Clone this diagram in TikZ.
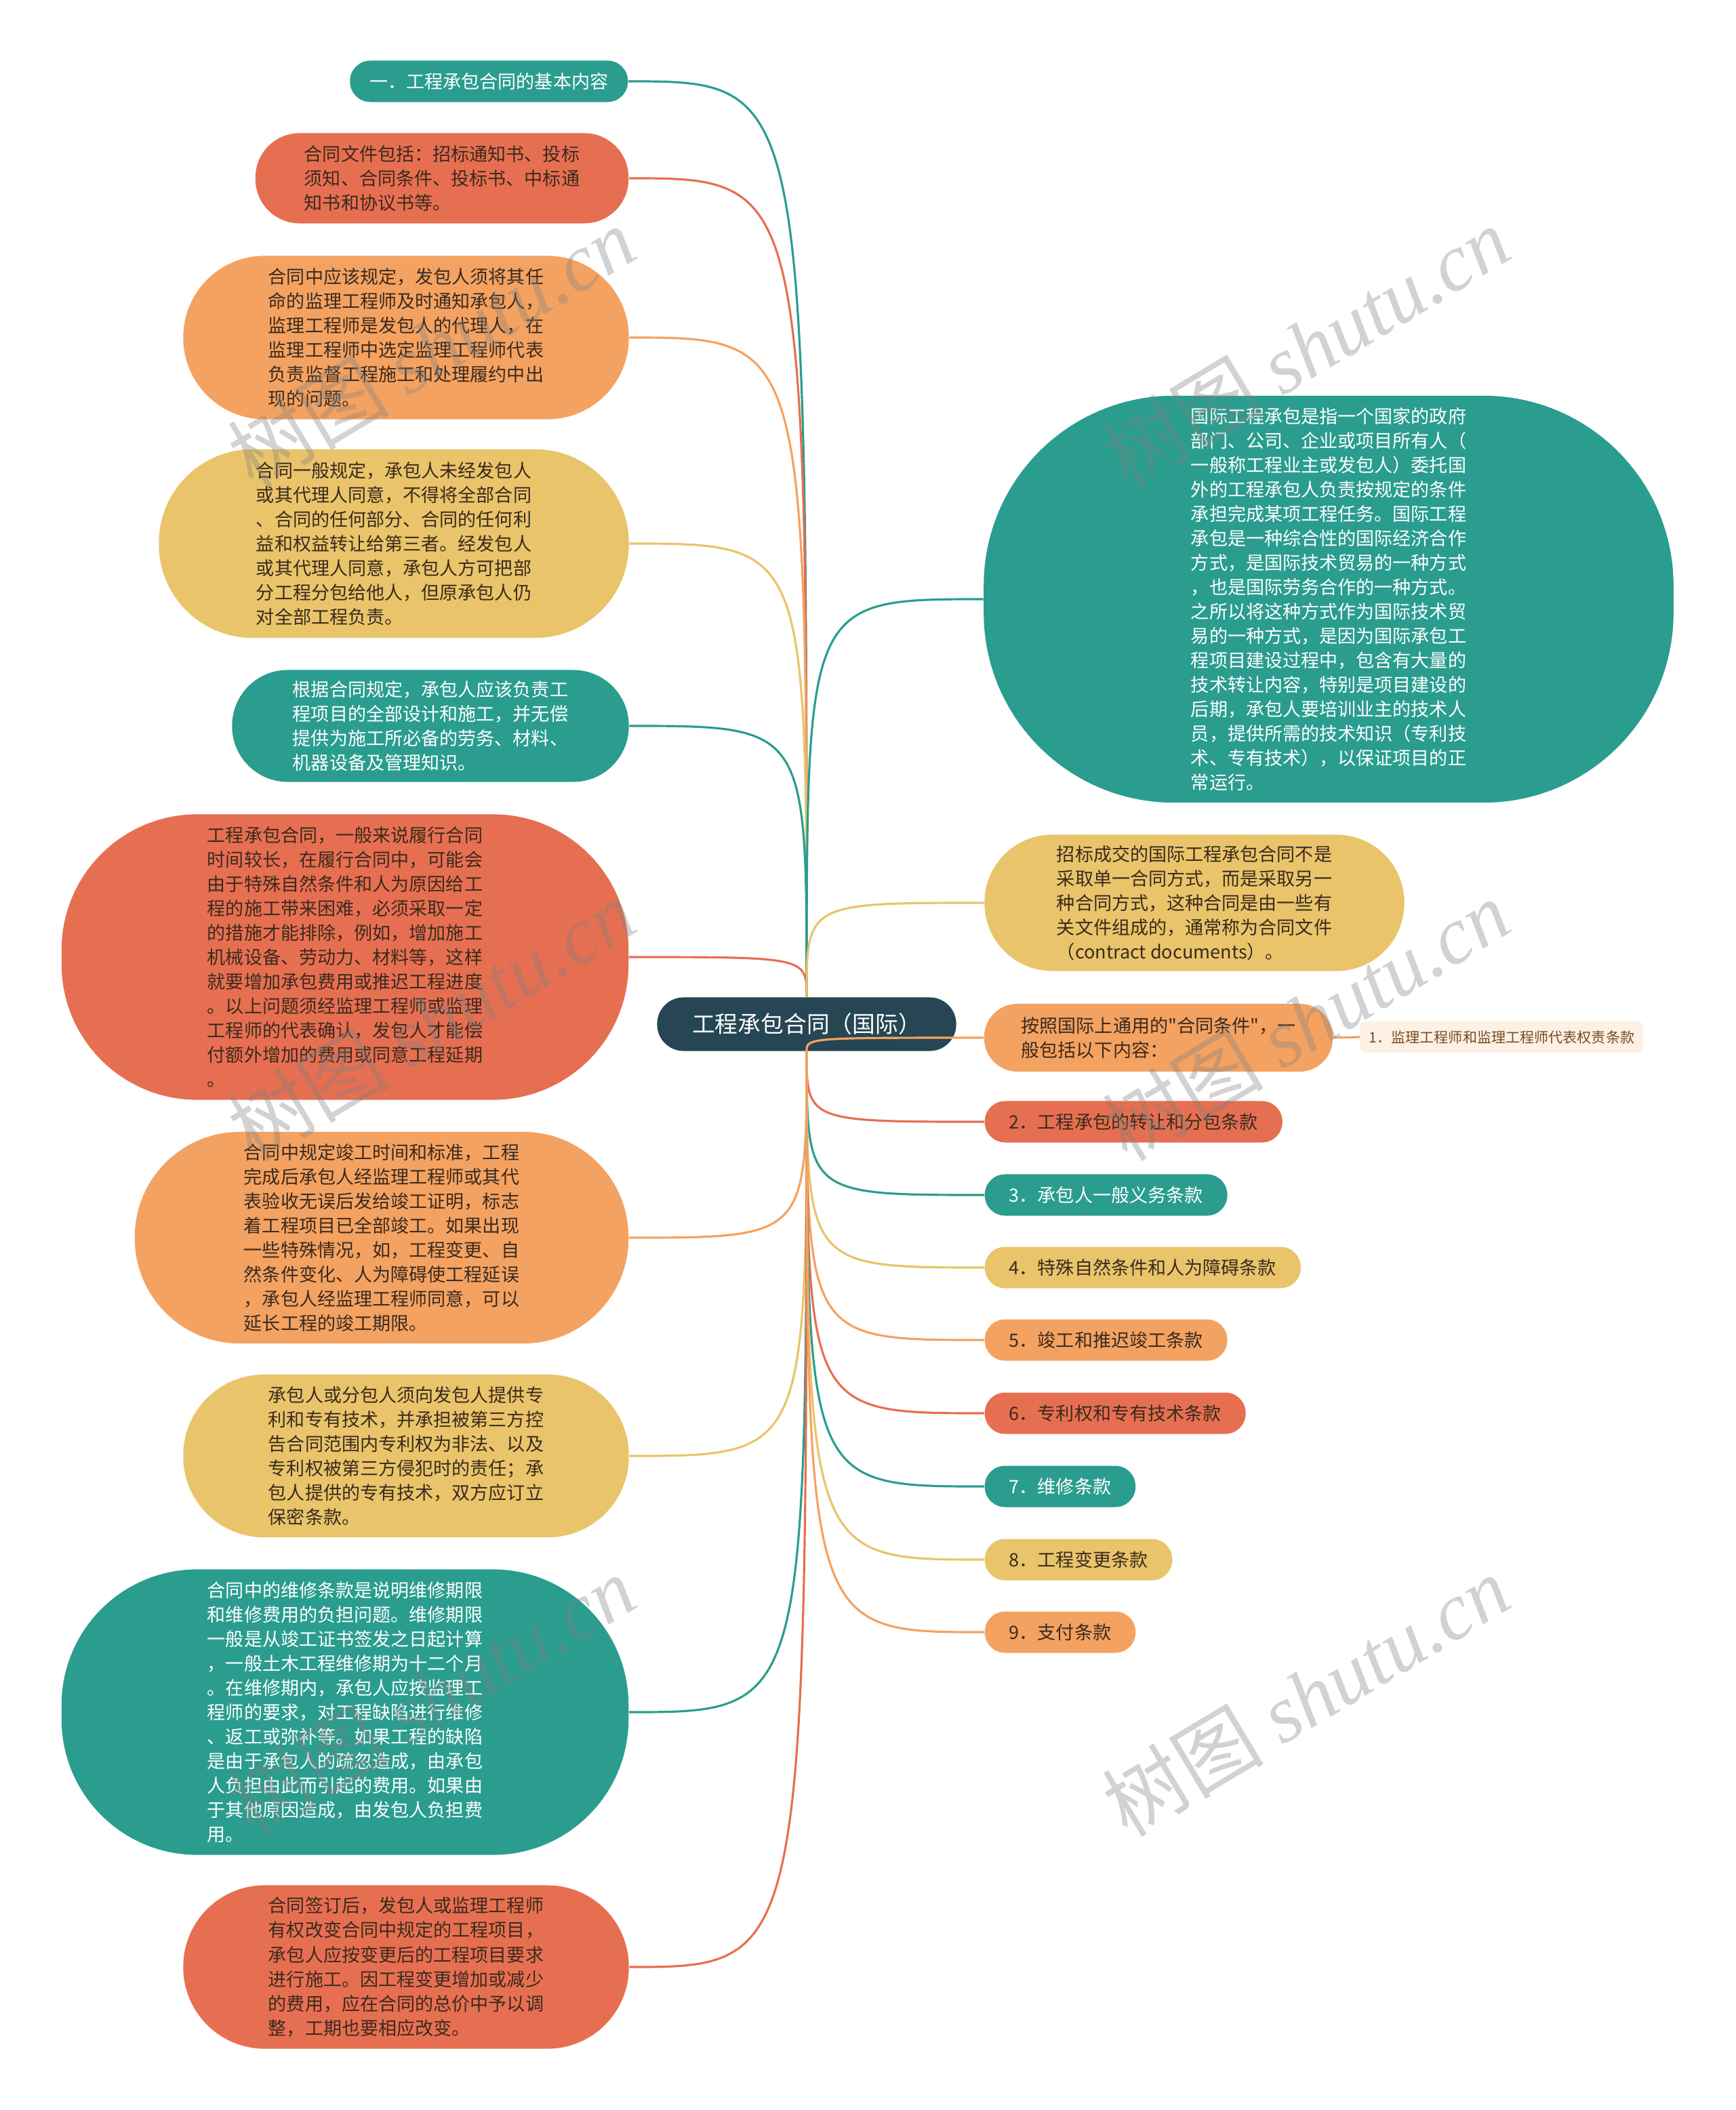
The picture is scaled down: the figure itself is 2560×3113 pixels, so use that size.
\documentclass[tikz,border=0pt]{standalone}
\usepackage{fontspec}
\setmainfont{Noto Sans CJK SC}[Ligatures=TeXOff]
\newfontfamily\wmfont{Liberation Serif}
\usepackage{tikz}

\definecolor{mmteal}{HTML}{2A9D8F}
\definecolor{mmyellow}{HTML}{E9C46A}
\definecolor{mmorange}{HTML}{F4A261}
\definecolor{mmred}{HTML}{E76F51}
\definecolor{mmdark}{HTML}{264653}
\definecolor{mmtext}{HTML}{3A2A1E}
\definecolor{mmpeach}{HTML}{FDF0E5}
\definecolor{mmbrown}{HTML}{7B4A1F}

\newcommand\bodyfont{\fontsize{7.7}{10.25}\selectfont}

\begin{document}
\begin{tikzpicture}[
  x=0.01cm, y=-0.01cm,
  bub/.style={rounded corners=#1, align=left, inner sep=0pt, font=\bodyfont},
  pill/.style={rounded corners=0.3cm, minimum height=0.61cm, inner xsep=0.36cm, inner ysep=0pt, font=\bodyfont},
  hub/.style={rounded corners=0.39cm, fill=mmdark, text=white, minimum width=4.41cm, minimum height=0.79cm, font=\fontsize{9.6}{12}\selectfont},
  onteal/.style={fill=mmteal, text=white},
  onred/.style={fill=mmred, text=mmtext},
  onorange/.style={fill=mmorange, text=mmtext},
  onyellow/.style={fill=mmyellow, text=mmtext},
  link/.style={line width=0.9pt},
  wm/.style={rotate=31, text=gray, opacity=0.35, font=\fontsize{34}{34}\selectfont}
]
\path[fill=white, use as bounding box] (0,0) rectangle (2560,3113);

% centre
\node[hub] (root) at (1190,1511) {工程承包合同（国际）};

% left side
\node[pill, onteal, anchor=east, inner xsep=0.29cm] (n1) at (927,120) {一．工程承包合同的基本内容};
\node[bub=0.65cm, onred, minimum width=5.5cm, minimum height=1.33cm] (n2) at (652,263)
  {合同文件包括：招标通知书、投标\\须知、合同条件、投标书、中标通\\知书和协议书等。};
\node[bub=1.2cm, onorange, minimum width=6.57cm, minimum height=2.41cm] (n3) at (599,498)
  {合同中应该规定，发包人须将其任\\命的监理工程师及时通知承包人，\\监理工程师是发包人的代理人，在\\监理工程师中选定监理工程师代表\\负责监督工程施工和处理履约中出\\现的问题。};
\node[bub=1.38cm, onyellow, minimum width=6.93cm, minimum height=2.78cm] (n4) at (581,802)
  {合同一般规定，承包人未经发包人\\或其代理人同意，不得将全部合同\\、合同的任何部分、合同的任何利\\益和权益转让给第三者。经发包人\\或其代理人同意，承包人方可把部\\分工程分包给他人，但原承包人仍\\对全部工程负责。};
\node[bub=0.82cm, onteal, minimum width=5.85cm, minimum height=1.65cm] (n5) at (635,1071)
  {根据合同规定，承包人应该负责工\\程项目的全部设计和施工，并无偿\\提供为施工所必备的劳务、材料、\\机器设备及管理知识。};
\node[bub=2cm, onred, minimum width=8.36cm, minimum height=4.21cm] (n6) at (509,1412)
  {工程承包合同，一般来说履行合同\\时间较长，在履行合同中，可能会\\由于特殊自然条件和人为原因给工\\程的施工带来困难，必须采取一定\\的措施才能排除，例如，增加施工\\机械设备、劳动力、材料等，这样\\就要增加承包费用或推迟工程进度\\。以上问题须经监理工程师或监理\\工程师的代表确认，发包人才能偿\\付额外增加的费用或同意工程延期\\。};
\node[bub=1.55cm, onorange, minimum width=7.28cm, minimum height=3.12cm] (n7) at (563,1826)
  {合同中规定竣工时间和标准，工程\\完成后承包人经监理工程师或其代\\表验收无误后发给竣工证明，标志\\着工程项目已全部竣工。如果出现\\一些特殊情况，如，工程变更、自\\然条件变化、人为障碍使工程延误\\，承包人经监理工程师同意，可以\\延长工程的竣工期限。};
\node[bub=1.19cm, onyellow, minimum width=6.57cm, minimum height=2.4cm] (n8) at (599,2148)
  {承包人或分包人须向发包人提供专\\利和专有技术，并承担被第三方控\\告合同范围内专利权为非法、以及\\专利权被第三方侵犯时的责任；承\\包人提供的专有技术，双方应订立\\保密条款。};
\node[bub=2cm, onteal, minimum width=8.36cm, minimum height=4.21cm] (n9) at (509,2526)
  {合同中的维修条款是说明维修期限\\和维修费用的负担问题。维修期限\\一般是从竣工证书签发之日起计算\\，一般土木工程维修期为十二个月\\。在维修期内，承包人应按监理工\\程师的要求，对工程缺陷进行维修\\、返工或弥补等。如果工程的缺陷\\是由于承包人的疏忽造成，由承包\\人负担由此而引起的费用。如果由\\于其他原因造成，由发包人负担费\\用。};
\node[bub=1.2cm, onred, minimum width=6.57cm, minimum height=2.41cm] (n10) at (599,2902)
  {合同签订后，发包人或监理工程师\\有权改变合同中规定的工程项目，\\承包人应按变更后的工程项目要求\\进行施工。因工程变更增加或减少\\的费用，应在合同的总价中予以调\\整，工期也要相应改变。};

% right side
\node[bub=2.8cm, onteal, minimum width=10.17cm, minimum height=6cm] (r1) at (1960,884)
  {国际工程承包是指一个国家的政府\\部门、公司、企业或项目所有人（\\一般称工程业主或发包人）委托国\\外的工程承包人负责按规定的条件\\承担完成某项工程任务。国际工程\\承包是一种综合性的国际经济合作\\方式，是国际技术贸易的一种方式\\，也是国际劳务合作的一种方式。\\之所以将这种方式作为国际技术贸\\易的一种方式，是因为国际承包工\\程项目建设过程中，包含有大量的\\技术转让内容，特别是项目建设的\\后期，承包人要培训业主的技术人\\员，提供所需的技术知识（专利技\\术、专有技术），以保证项目的正\\常运行。};
\node[bub=1cm, onyellow, minimum width=6.19cm, minimum height=2.01cm] (r2) at (1762,1332)
  {招标成交的国际工程承包合同不是\\采取单一合同方式，而是采取另一\\种合同方式，这种合同是由一些有\\关文件组成的，通常称为合同文件\\（contract documents）。};
\node[bub=0.49cm, onorange, minimum width=5.14cm, minimum height=1cm] (r3) at (1709,1531)
  {按照国际上通用的"合同条件"，一\\般包括以下内容：};
\node[rounded corners=0.08cm, fill=mmpeach, text=mmbrown, anchor=west, inner xsep=0.13cm, inner ysep=0pt,
  minimum height=0.46cm, font=\fontsize{6}{7}\selectfont] (r3a) at (2006,1530) {1．监理工程师和监理工程师代表权责条款};
\node[pill, onred, anchor=west] (r4) at (1452,1655) {2．工程承包的转让和分包条款};
\node[pill, onteal, anchor=west] (r5) at (1452,1763) {3．承包人一般义务条款};
\node[pill, onyellow, anchor=west] (r6) at (1452,1870) {4．特殊自然条件和人为障碍条款};
\node[pill, onorange, anchor=west] (r7) at (1452,1977) {5．竣工和推迟竣工条款};
\node[pill, onred, anchor=west] (r8) at (1452,2085) {6．专利权和专有技术条款};
\node[pill, onteal, anchor=west] (r9) at (1452,2193) {7．维修条款};
\node[pill, onyellow, anchor=west] (r10) at (1452,2301) {8．工程变更条款};
\node[pill, onorange, anchor=west] (r11) at (1452,2408) {9．支付条款};

% connectors
\draw[link, mmteal] (root.north) .. controls (root.north |- n1.east) .. (n1.east);
\draw[link, mmred] (root.north) .. controls (root.north |- n2.east) .. (n2.east);
\draw[link, mmorange] (root.north) .. controls (root.north |- n3.east) .. (n3.east);
\draw[link, mmyellow] (root.north) .. controls (root.north |- n4.east) .. (n4.east);
\draw[link, mmteal] (root.north) .. controls (root.north |- n5.east) .. (n5.east);
\draw[link, mmred] (root.north) .. controls (root.north |- n6.east) .. (n6.east);
\draw[link, mmorange] (root.south) .. controls (root.south |- n7.east) .. (n7.east);
\draw[link, mmyellow] (root.south) .. controls (root.south |- n8.east) .. (n8.east);
\draw[link, mmteal] (root.south) .. controls (root.south |- n9.east) .. (n9.east);
\draw[link, mmred] (root.south) .. controls (root.south |- n10.east) .. (n10.east);
\draw[link, mmteal] (root.north) .. controls (root.north |- r1.west) .. (r1.west);
\draw[link, mmyellow] (root.north) .. controls (root.north |- r2.west) .. (r2.west);
\draw[link, mmorange] (root.south) .. controls (root.south |- r3.west) .. (r3.west);
\draw[link, mmorange] (r3.east) -- (r3a.west);
\draw[link, mmred] (root.south) .. controls (root.south |- r4.west) .. (r4.west);
\draw[link, mmteal] (root.south) .. controls (root.south |- r5.west) .. (r5.west);
\draw[link, mmyellow] (root.south) .. controls (root.south |- r6.west) .. (r6.west);
\draw[link, mmorange] (root.south) .. controls (root.south |- r7.west) .. (r7.west);
\draw[link, mmred] (root.south) .. controls (root.south |- r8.west) .. (r8.west);
\draw[link, mmteal] (root.south) .. controls (root.south |- r9.west) .. (r9.west);
\draw[link, mmyellow] (root.south) .. controls (root.south |- r10.west) .. (r10.west);
\draw[link, mmorange] (root.south) .. controls (root.south |- r11.west) .. (r11.west);

% watermarks
\node[wm] (w1) at (636,512) {树图 {\wmfont\itshape shutu.cn}};
\node[wm] (w2) at (1926,512) {树图 {\wmfont\itshape shutu.cn}};
\node[wm] (w3) at (636,1505) {树图 {\wmfont\itshape shutu.cn}};
\node[wm] (w4) at (1926,1505) {树图 {\wmfont\itshape shutu.cn}};
\node[wm] (w5) at (636,2502) {树图 {\wmfont\itshape shutu.cn}};
\node[wm] (w6) at (1926,2502) {树图 {\wmfont\itshape shutu.cn}};
\end{tikzpicture}
\end{document}
